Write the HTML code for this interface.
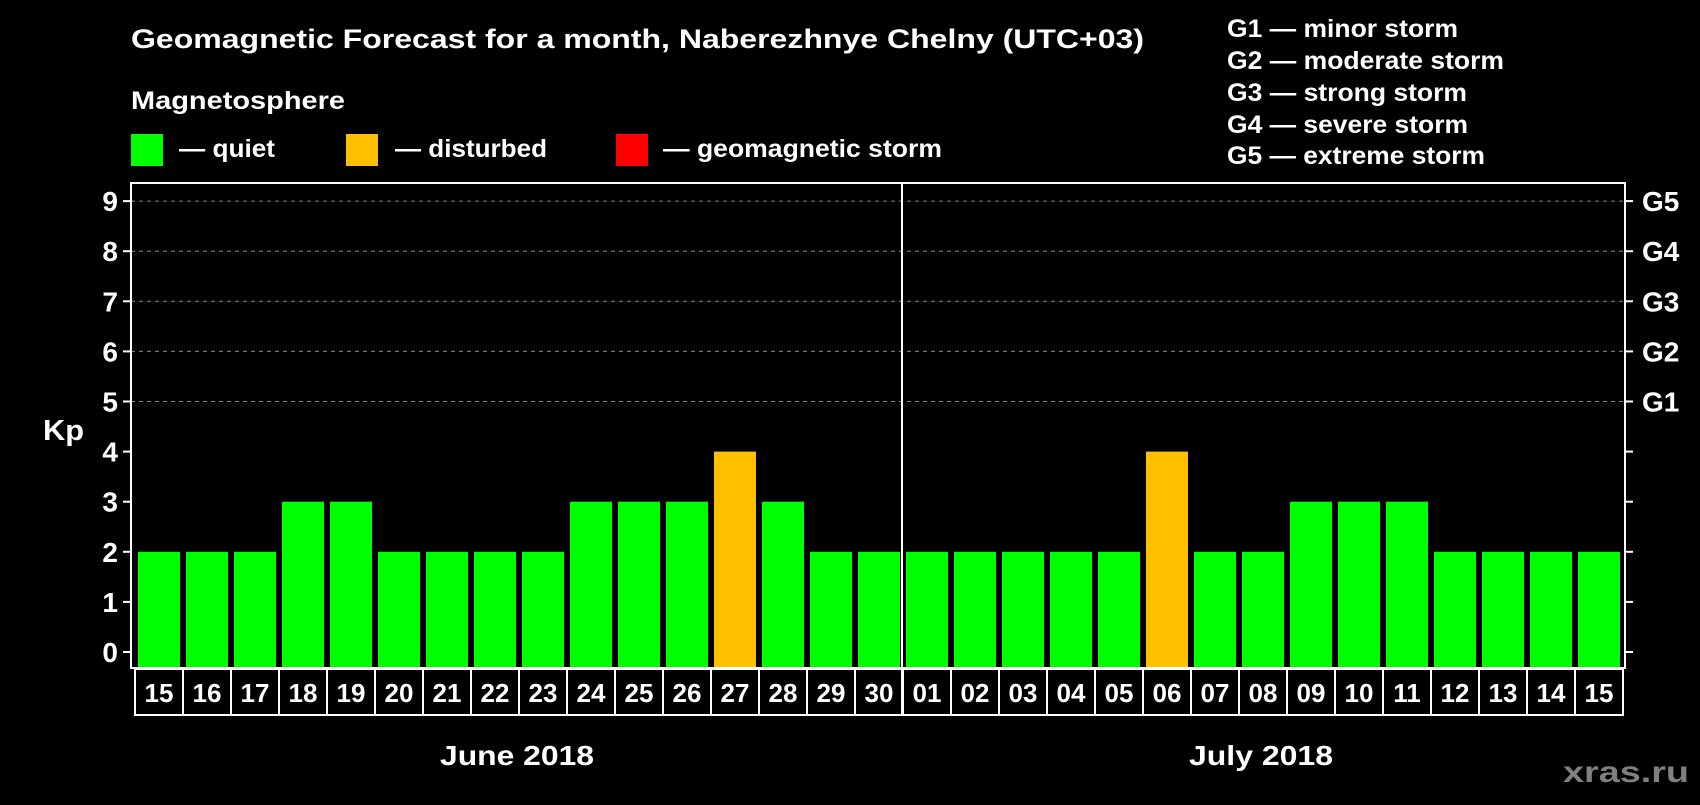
<!DOCTYPE html>
<html><head><meta charset="utf-8"><style>
body{margin:0;background:#000;width:1700px;height:800px;overflow:hidden;font-family:"Liberation Sans",sans-serif;font-weight:bold;color:#fff}
svg text{font-family:"Liberation Sans",sans-serif;font-weight:bold;fill:#fff}
</style></head><body>
<svg width="1700" height="800">
<text x="131" y="48" font-size="27" textLength="1013" lengthAdjust="spacingAndGlyphs">Geomagnetic Forecast for a month, Naberezhnye Chelny (UTC+03)</text>
<text x="131" y="109" font-size="25" textLength="214" lengthAdjust="spacingAndGlyphs">Magnetosphere</text>
<rect x="131" y="134" width="32" height="32" fill="#00ff00"/>
<text x="179" y="157" font-size="25" textLength="96" lengthAdjust="spacingAndGlyphs">— quiet</text>
<rect x="346" y="134" width="32" height="32" fill="#ffc000"/>
<text x="395" y="157" font-size="25" textLength="152" lengthAdjust="spacingAndGlyphs">— disturbed</text>
<rect x="616" y="134" width="32" height="32" fill="#ff0000"/>
<text x="663" y="157" font-size="25" textLength="279" lengthAdjust="spacingAndGlyphs">— geomagnetic storm</text>
<g font-size="25">
<text x="1227" y="37" textLength="231" lengthAdjust="spacingAndGlyphs">G1 — minor storm</text>
<text x="1227" y="69" textLength="277" lengthAdjust="spacingAndGlyphs">G2 — moderate storm</text>
<text x="1227" y="101" textLength="240" lengthAdjust="spacingAndGlyphs">G3 — strong storm</text>
<text x="1227" y="133" textLength="241" lengthAdjust="spacingAndGlyphs">G4 — severe storm</text>
<text x="1227" y="164" textLength="258" lengthAdjust="spacingAndGlyphs">G5 — extreme storm</text>
</g>
<text x="43" y="440" font-size="29" textLength="41" lengthAdjust="spacingAndGlyphs">Kp</text>
<g id="plot"></g>
<text x="517" y="765" font-size="28" textLength="154" lengthAdjust="spacingAndGlyphs" text-anchor="middle">June 2018</text>
<text x="1261" y="765" font-size="28" textLength="144" lengthAdjust="spacingAndGlyphs" text-anchor="middle">July 2018</text>
<text x="1689" y="782" font-size="30" textLength="126" lengthAdjust="spacingAndGlyphs" text-anchor="end" style="fill:#808080">xras.ru</text>
</svg>
<script>
const days=["15","16","17","18","19","20","21","22","23","24","25","26","27","28","29","30","01","02","03","04","05","06","07","08","09","10","11","12","13","14","15"];
const kp=[2,2,2,3,3,2,2,2,2,3,3,3,4,3,2,2,2,2,2,2,2,4,2,2,3,3,3,2,2,2,2];
const yTicks=[0,1,2,3,4,5,6,7,8,9];
const gLabels=["G1","G2","G3","G4","G5"];
const NS="http://www.w3.org/2000/svg";
const g=document.getElementById('plot');
const L=131,R=1625,T=183,B=668,y0=652,unit=50.1,x0=138,pitch=48,bw=42;
const y=v=>y0-v*unit;
function el(t,a){const e=document.createElementNS(NS,t);for(const k in a)e.setAttribute(k,a[k]);g.appendChild(e);return e;}
yTicks.forEach(v=>{
 if(v>=5){const l=el('line',{x1:L,x2:R,y1:y(v),y2:y(v),stroke:'#888','stroke-dasharray':'4 4','stroke-width':1});
 
 }
 const t1=el('line',{x1:L-8,x2:L,y1:y(v),y2:y(v),stroke:'#fff','stroke-width':2});
 
 
 const t2=el('line',{x1:R,x2:R+8,y1:y(v),y2:y(v),stroke:'#fff','stroke-width':2});
 
 
 const tx=el('text',{x:L-13,y:y(v)+10,'font-size':28,'text-anchor':'end'});tx.textContent=v;
 
 
});
gLabels.forEach((s,i)=>{const tx=el('text',{x:1642,y:y(5+i)+10,'font-size':28});tx.textContent=s;
 
 });
kp.forEach((v,i)=>{
 const c=v>=5?'#ff0000':v>=4?'#ffc000':'#00ff00';
 const r=el('rect',{x:x0+i*pitch,y:y(v),width:bw,height:B-y(v),fill:c});
 
 
 const b=el('rect',{x:135+i*pitch,y:669,width:pitch,height:46,fill:'none',stroke:'#fff','stroke-width':2});
 
 
 const tx=el('text',{x:135+i*pitch+pitch/2,y:702,'font-size':26,'text-anchor':'middle'});tx.textContent=days[i];
 
 
});
const f=el('rect',{x:L,y:T,width:R-L,height:B-T,fill:'none',stroke:'#fff','stroke-width':2});


const d=el('line',{x1:902,x2:902,y1:T,y2:715,stroke:'#fff','stroke-width':2});


</script>
</body></html>
